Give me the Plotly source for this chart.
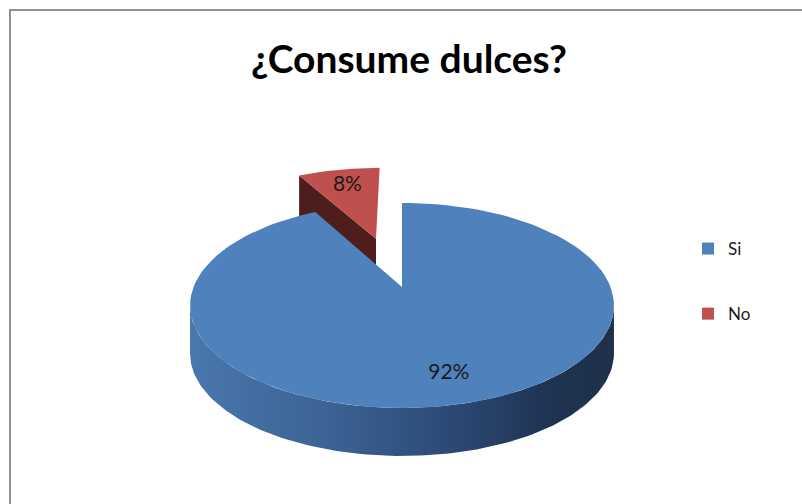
import math
import plotly.graph_objects as go

# ---- data ----
categories = ["Si", "No"]
values = [92, 8]
labels_text = ["92%", "8%"]
title_text = "¿Consume dulces?"

# ---- styling / projection parameters (pixel space of an 802x504 canvas) ----
W, H = 802, 504
CX, CY = 402, 287          # projected pie centre
A, B, S = 208.5, 99.2, 0.18  # horizontal radius, vertical radius, perspective factor
DEPTH = 48                 # thickness of the pie (px)
EXPLODE = {"No": 0.55}     # explosion as fraction of radius
LABEL_R = {"Si": 0.78, "No": 0.74}
top_colors = {"Si": "#4F81BD", "No": "#C0504D"}
side_colors = {"Si": "#3B6294", "No": "#4E1E1D"}
FONT = "Lato"


def proj(u, v, h=0.0):
    k = 1 + S * v
    return CX + A * u / k, CY - B * v / k + h * DEPTH


def arc(th0, th1, offset=(0.0, 0.0), h=0.0, n=120):
    pts = []
    for i in range(n + 1):
        t = math.radians(th0 + (th1 - th0) * i / n)
        pts.append(proj(offset[0] + math.sin(t), offset[1] + math.cos(t), h))
    return pts


total = sum(values)
# Excel-style: first slice starts at 12 o'clock, goes clockwise
angles = []
start = 0.0
for c, v in zip(categories, values):
    span = 360.0 * v / total
    angles.append((c, start, start + span))
    start += span

fig = go.Figure()
back_traces, front_traces, text_traces = [], [], []

for (c, a0, a1), lab in zip(angles, labels_text):
    mid = math.radians((a0 + a1) / 2)
    e = EXPLODE.get(c, 0.0)
    off = (e * math.sin(mid), e * math.cos(mid))
    cx_t, cy_t = proj(off[0], off[1], 0)
    cx_b, cy_b = proj(off[0], off[1], 1)
    traces = []
    # visible radial face at the slice's start edge (exploded slice only)
    t0 = math.radians(a0)
    if e > 0:
        ox, oy = proj(off[0] + math.sin(t0), off[1] + math.cos(t0), 0)
        bx, by = proj(off[0] + math.sin(t0), off[1] + math.cos(t0), 1)
        traces.append(go.Scatter(
            x=[cx_t, ox, bx, cx_b, cx_t], y=[cy_t, oy, by, cy_b, cy_t],
            fill="toself", mode="lines", line=dict(width=0),
            fillcolor=side_colors[c], hoverinfo="skip", showlegend=False))
    # outer cylindrical side: front part (between silhouette angles)
    sil0 = math.degrees(math.acos(-S))
    sil1 = 360 - sil0
    f0, f1 = max(a0, sil0), min(a1, sil1)
    if f1 > f0 and e == 0:
        top = arc(f0, f1, off, 0)
        bot = arc(f0, f1, off, 1)[::-1]
        pts = top + bot + [top[0]]
        traces.append(go.Scatter(
            x=[p[0] for p in pts], y=[p[1] for p in pts],
            fill="toself", mode="lines", line=dict(width=0),
            fillgradient=dict(type="horizontal", colorscale=[
                [0.0, "#4A77AD"], [0.35, "#3A6192"], [0.65, "#2A4670"],
                [0.85, "#1F3352"], [1.0, "#1F3149"]]),
            hoverinfo="skip", showlegend=False))
    # top face
    pts = [(cx_t, cy_t)] + arc(a0, a1, off, 0) + [(cx_t, cy_t)]
    traces.append(go.Scatter(
        x=[p[0] for p in pts], y=[p[1] for p in pts],
        fill="toself", mode="lines", line=dict(width=0),
        fillcolor=top_colors[c], name=c,
        hovertemplate=f"{c}: {lab}<extra></extra>", showlegend=False))
    if e > 0:
        back_traces += traces
    else:
        front_traces += traces
    r = LABEL_R[c]
    lx, ly = proj(off[0] + r * math.sin(mid), off[1] + r * math.cos(mid), 0)
    text_traces.append(go.Scatter(
        x=[lx], y=[ly], mode="text", text=[lab],
        textfont=dict(family=FONT, size=21, color="#1A1A1A"),
        hoverinfo="skip", showlegend=False))

for t in back_traces + front_traces + text_traces:
    fig.add_trace(t)

# legend entries
for i, c in enumerate(categories):
    fig.add_trace(go.Scatter(
        x=[None], y=[None], mode="markers", name=c,
        marker=dict(symbol="square", size=12, color=top_colors[c]),
        legendgroup=c, showlegend=True))

fig.update_layout(
    width=W, height=H,
    margin=dict(l=0, r=0, t=0, b=0),
    paper_bgcolor="white", plot_bgcolor="white",
    xaxis=dict(range=[0, W], visible=False, fixedrange=True, domain=[0, 1]),
    yaxis=dict(range=[H, 0], visible=False, fixedrange=True, domain=[0, 1]),
    title=dict(text=f"<b>{title_text}</b>", x=409 / W, xanchor="center",
               y=1 - 59 / H, yanchor="middle",
               font=dict(family=FONT, size=39, color="#000000")),
    legend=dict(x=688 / W, y=1 - 231 / H, xanchor="left", yanchor="top",
                font=dict(family=FONT, size=17, color="#1A1A1A"),
                tracegroupgap=40, bgcolor="rgba(0,0,0,0)", itemwidth=30),
    shapes=[dict(type="rect", xref="paper", yref="paper",
                 x0=10 / W, y0=1 - 10 / H, x1=1.05, y1=-0.05,
                 line=dict(color="#8F8F8F", width=2), layer="above")],
    showlegend=True,
)

fig.write_html("out.html",
               config={"displayModeBar": False},
               post_script="document.body.style.margin='0';document.body.style.overflow='hidden';")
